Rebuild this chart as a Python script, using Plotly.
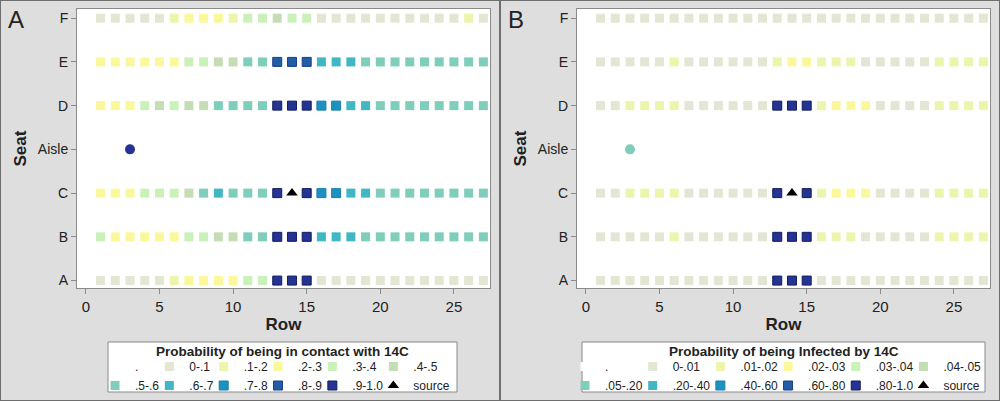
import plotly.graph_objects as go
from plotly.subplots import make_subplots

# ---------------------------------------------------------------------------
# Data
# ---------------------------------------------------------------------------
rows = list(range(1, 28))
seats = ["A", "B", "C", "Aisle", "D", "E", "F"]

source_row = 14
source_seat = "C"
aisle_row = 3

# class index per seat (row 1..27); None = source seat
contact_labels = [".", "0-.1", ".1-.2", ".2-.3", ".3-.4", ".4-.5",
                  ".5-.6", ".6-.7", ".7-.8", ".8-.9", ".9-1.0"]
contact_f = [1, 1, 1, 1, 1, 2, 3, 3, 3, 2, 4, 4, 5, 4, 4, 1, 1, 1, 1, 1, 1, 1, 1, 1, 1, 2, 1]
contact_e = [3, 3, 3, 3, 3, 3, 4, 4, 5, 5, 6, 6, 9, 9, 9, 7, 7, 7, 6, 6, 6, 6, 6, 6, 6, 6, 6]
contact_d = [3, 3, 3, 4, 5, 4, 5, 5, 6, 6, 6, 6, 10, 10, 10, 8, 8, 7, 7, 6, 6, 6, 6, 6, 6, 6, 6]
contact_c = [3, 3, 3, 4, 4, 4, 5, 6, 7, 6, 6, 6, 10, None, 10, 8, 8, 7, 7, 6, 6, 6, 6, 6, 6, 6, 6]
contact_b = [4, 3, 3, 3, 3, 3, 4, 4, 5, 5, 6, 6, 10, 10, 10, 7, 7, 7, 6, 6, 6, 6, 6, 6, 6, 6, 6]
contact_a = [1, 1, 1, 1, 1, 2, 3, 3, 3, 3, 4, 4, 10, 10, 10, 1, 1, 1, 1, 1, 1, 1, 1, 1, 1, 1, 1]
contact_aisle = 10

infect_labels = [".", "0-.01", ".01-.02", ".02-.03", ".03-.04", ".04-.05",
                 ".05-.20", ".20-.40", ".40-.60", ".60-.80", ".80-1.0"]
infect_f = [1, 1, 1, 1, 1, 1, 1, 1, 1, 1, 1, 1, 1, 1, 1, 1, 1, 1, 1, 1, 1, 1, 1, 1, 1, 1, 1]
infect_e = [1, 1, 1, 1, 1, 2, 1, 1, 1, 1, 1, 1, 2, 3, 3, 2, 2, 2, 1, 1, 1, 1, 1, 2, 2, 2, 2]
infect_d = [1, 1, 2, 2, 2, 2, 1, 1, 1, 1, 1, 1, 10, 10, 10, 2, 3, 3, 3, 1, 1, 1, 1, 2, 2, 2, 2]
infect_c = [1, 1, 2, 2, 2, 2, 1, 1, 1, 1, 1, 1, 10, None, 10, 2, 3, 3, 3, 1, 1, 1, 1, 2, 2, 2, 2]
infect_b = [1, 1, 1, 1, 1, 2, 1, 1, 1, 1, 1, 1, 10, 10, 10, 2, 2, 2, 1, 1, 1, 1, 1, 2, 2, 2, 2]
infect_a = [1, 1, 1, 1, 1, 1, 1, 1, 1, 1, 1, 1, 10, 10, 10, 1, 1, 1, 1, 1, 1, 1, 1, 1, 1, 1, 1]
infect_aisle = 6

class_colors = ["#ffffff", "#e3e6d2", "#edf5ad", "#fbf89b", "#c9f1b9", "#c5ddb4",
                "#7fcdbb", "#41b6c4", "#1d91c0", "#225ea8", "#253494"]
class_edges = ["#ffffff", "#e3e6d2", "#edf5ad", "#fbf89b", "#c9f1b9", "#c5ddb4",
               "#7fcdbb", "#41b6c4", "#1a7fab", "#1a3f80", "#141c5e"]

contact_title = "Probability of being in contact with 14C"
infect_title = "Probability of being Infected by 14C"

FONT = "Liberation Sans, Arial, sans-serif"

# ---------------------------------------------------------------------------
# Figure
# ---------------------------------------------------------------------------
fig = make_subplots(rows=1, cols=2, horizontal_spacing=0.1)


def add_panel(grid, labels, aisle_cls, col, legend_name):
    # legend is laid out as 6 groups (columns) of 2 entries
    for k in range(6):
        for cls in (k, k + 6):
            if cls < len(labels):
                xs = [r for seat, codes in grid for r, c in zip(rows, codes) if c == cls]
                ys = [seat for seat, codes in grid for r, c in zip(rows, codes) if c == cls]
                if not xs:
                    # keep an entry in the legend for empty classes
                    xs, ys = [None], [None]
                fig.add_trace(go.Scatter(
                    x=xs, y=ys, mode="markers", name=labels[cls],
                    legend=legend_name, legendgroup=f"{legend_name}{k}",
                    marker=dict(symbol="square", size=9, color=class_colors[cls],
                                line=dict(width=1 if cls >= 8 else 0, color=class_edges[cls])),
                    hoverinfo="x+y+name"),
                    row=1, col=col)
            else:
                fig.add_trace(go.Scatter(
                    x=[source_row], y=[source_seat], mode="markers", name="source",
                    legend=legend_name, legendgroup=f"{legend_name}{k}",
                    marker=dict(symbol="triangle-up", size=10, color="black")),
                    row=1, col=col)
    fig.add_trace(go.Scatter(
        x=[aisle_row], y=["Aisle"], mode="markers", showlegend=False,
        marker=dict(symbol="circle", size=10, color=class_colors[aisle_cls])),
        row=1, col=col)


add_panel([("A", contact_a), ("B", contact_b), ("C", contact_c),
           ("D", contact_d), ("E", contact_e), ("F", contact_f)],
          contact_labels, contact_aisle, 1, "legend")
add_panel([("A", infect_a), ("B", infect_b), ("C", infect_c),
           ("D", infect_d), ("E", infect_e), ("F", infect_f)],
          infect_labels, infect_aisle, 2, "legend2")

ydom = [1 - 288 / 401, 1 - 9 / 401]
fig.update_layout(xaxis=dict(domain=[0.077, 0.490]), xaxis2=dict(domain=[0.577, 0.990]),
                  yaxis=dict(domain=ydom), yaxis2=dict(domain=ydom))

fig.update_xaxes(range=[-0.6, 27.45], tickvals=[0, 5, 10, 15, 20, 25],
                 showgrid=False, zeroline=False, showline=True, mirror=True,
                 linecolor="#8a8a8a", linewidth=1, ticks="outside", ticklen=5,
                 tickcolor="#8a8a8a", tickfont=dict(size=15, color="#222"),
                 title=dict(text="<b>Row</b>", font=dict(size=17, color="#222"), standoff=2))
fig.update_yaxes(type="category", categoryorder="array", categoryarray=seats,
                 range=[-0.17, 6.21], showgrid=False, zeroline=False, showline=True,
                 mirror=True, linecolor="#8a8a8a", linewidth=1, ticks="outside",
                 ticklen=5, tickcolor="#8a8a8a", tickfont=dict(size=14, color="#222"),
                 title=dict(text="<b>Seat</b>", font=dict(size=17, color="#222"), standoff=6))

# legends: entries only, the box and title are drawn around them
legend_style = dict(orientation="h", traceorder="grouped", tracegroupgap=0,
                    itemwidth=30, indentation=-15, yanchor="top", y=1 - 352 / 401,
                    xanchor="center", bgcolor="rgba(0,0,0,0)", borderwidth=0,
                    font=dict(size=12, color="#222"))
fig.update_layout(legend=dict(x=0.2825, **legend_style),
                  legend2=dict(x=0.7835, **legend_style))

for (bx0, bx1), title in [((108, 457), contact_title), ((582, 985), infect_title)]:
    fig.add_shape(type="rect", xref="paper", yref="paper",
                  x0=bx0 / 1000, x1=bx1 / 1000, y0=1 - 392 / 401, y1=1 - 342 / 401,
                  fillcolor="white", line=dict(color="#8a8a8a", width=1))
    fig.add_annotation(text=f"<b>{title}</b>", xref="paper", yref="paper",
                       x=(bx0 + bx1) / 2000, y=1 - 351 / 401,
                       xanchor="center", yanchor="middle",
                       showarrow=False, font=dict(size=13.5, color="#222"))

# panel frames and letters
for x0, x1 in [(0, 0.5), (0.5, 1)]:
    fig.add_shape(type="rect", xref="paper", yref="paper", x0=x0, x1=x1, y0=0, y1=1,
                  line=dict(color="#6e6e6e", width=2))
for letter, xpos in [("A", 0.006), ("B", 0.506)]:
    fig.add_annotation(text=letter, xref="paper", yref="paper", x=xpos, y=0.99,
                       xanchor="left", yanchor="top", showarrow=False,
                       font=dict(size=24, color="#222"))

fig.update_layout(
    width=1000, height=401,
    margin=dict(l=0, r=0, t=0, b=0, autoexpand=False),
    paper_bgcolor="#dedede", plot_bgcolor="white",
    font=dict(family=FONT, color="#222"),
)

fig.write_html("out.html", config={"displayModeBar": False},
               post_script="document.body.style.margin='0';document.body.style.overflow='hidden';")
